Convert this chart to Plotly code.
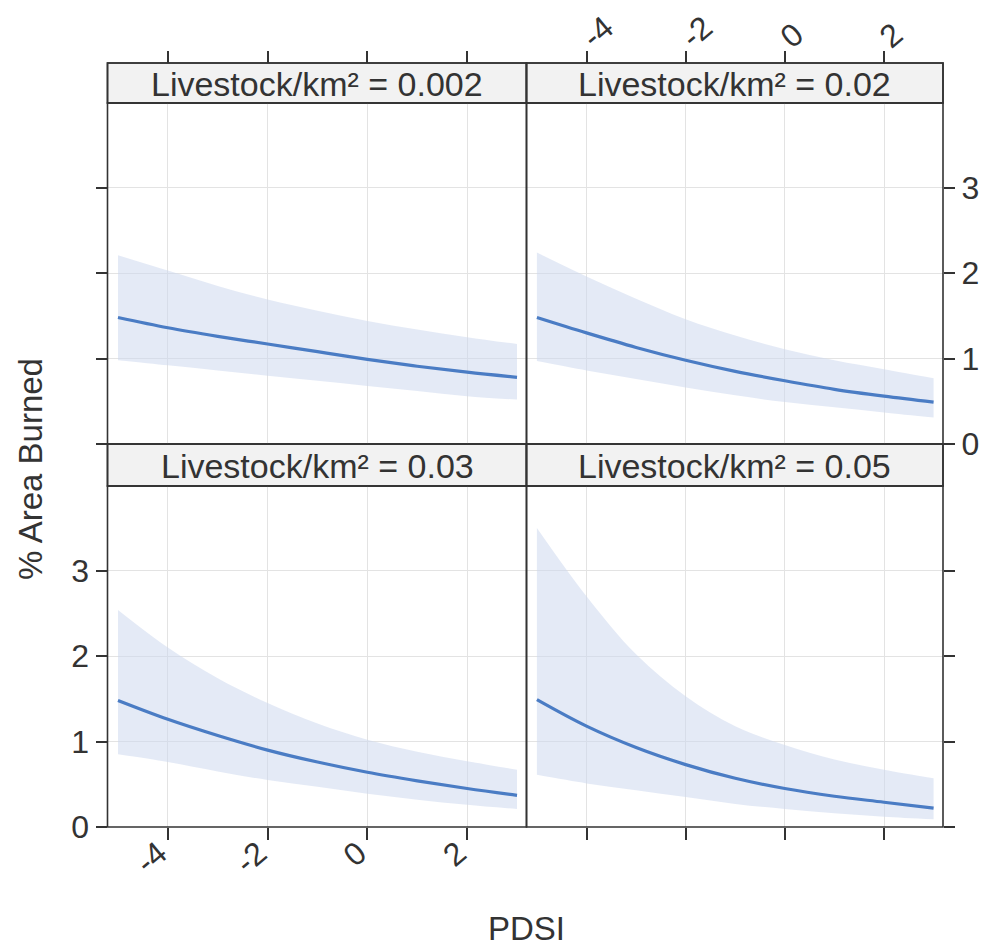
import plotly.graph_objects as go

# ---------------- data ----------------
pdsi = [-5, -4, -3, -2, -1, 0, 1, 2, 3]

panel_labels = ["Livestock/km² = 0.002", "Livestock/km² = 0.02",
                "Livestock/km² = 0.03", "Livestock/km² = 0.05"]

fit_0002 = [1.48, 1.36, 1.26, 1.17, 1.08, 0.99, 0.91, 0.84, 0.78]
upr_0002 = [2.21, 2.03, 1.85, 1.69, 1.56, 1.44, 1.34, 1.25, 1.17]
lwr_0002 = [0.98, 0.92, 0.86, 0.80, 0.74, 0.68, 0.62, 0.56, 0.52]

fit_002 = [1.48, 1.30, 1.13, 0.98, 0.85, 0.74, 0.64, 0.56, 0.49]
upr_002 = [2.24, 1.96, 1.70, 1.46, 1.27, 1.11, 0.98, 0.875, 0.77]
lwr_002 = [0.97, 0.86, 0.76, 0.66, 0.57, 0.49, 0.43, 0.37, 0.31]

fit_003 = [1.48, 1.26, 1.07, 0.90, 0.76, 0.64, 0.54, 0.45, 0.37]
upr_003 = [2.54, 2.10, 1.74, 1.45, 1.21, 1.02, 0.88, 0.77, 0.67]
lwr_003 = [0.85, 0.76, 0.65, 0.55, 0.47, 0.39, 0.32, 0.26, 0.21]

fit_005 = [1.49, 1.18, 0.93, 0.73, 0.57, 0.45, 0.36, 0.29, 0.22]
upr_005 = [3.50, 2.70, 2.02, 1.53, 1.18, 0.96, 0.79, 0.67, 0.57]
lwr_005 = [0.61, 0.51, 0.43, 0.35, 0.27, 0.21, 0.16, 0.12, 0.09]

x_ticks = [-4, -2, 0, 2]
x_ticktext = ["-4", "-2", "0", "2"]
y_ticks = [0, 1, 2, 3]
y_ticktext = ["0", "1", "2", "3"]

x_title = "PDSI"
y_title = "% Area Burned"

# ---------------- layout geometry ----------------
W, H = 993, 949
def fx(px): return px / W
def fy(py): return 1 - py / H

xL, xM, xR = 107.5, 526.5, 943.0
top_strip = (63, 103)
top_plot = (103, 444)
bot_strip = (444, 486)
bot_plot = (486, 827)

LINE = "#4a7cc4"
BAND = "rgba(205,217,238,0.55)"
DARK = "#333333"
GRID = "#e3e3e3"
FONT = "Liberation Sans, Arial, sans-serif"
XR = [-5.21, 3.19]
YR = [0, 3.99]

fig = go.Figure()

panels = [
    (fit_0002, upr_0002, lwr_0002, "x", "y"),
    (fit_002, upr_002, lwr_002, "x2", "y2"),
    (fit_003, upr_003, lwr_003, "x3", "y3"),
    (fit_005, upr_005, lwr_005, "x4", "y4"),
]
for fit, upr, lwr, xa, ya in panels:
    fig.add_trace(go.Scatter(
        x=pdsi, y=upr, mode="lines",
        line=dict(width=0, shape="spline", color=BAND),
        hoverinfo="skip", showlegend=False, xaxis=xa, yaxis=ya))
    fig.add_trace(go.Scatter(
        x=pdsi, y=lwr, mode="lines", fill="tonexty", fillcolor=BAND,
        line=dict(width=0, shape="spline", color=BAND),
        hoverinfo="skip", showlegend=False, xaxis=xa, yaxis=ya))
    fig.add_trace(go.Scatter(
        x=pdsi, y=fit, mode="lines",
        line=dict(color=LINE, width=3.2, shape="spline"),
        showlegend=False, xaxis=xa, yaxis=ya))

tickfont = dict(family=FONT, size=32, color=DARK)
common_x = dict(range=XR, tickvals=x_ticks, ticktext=x_ticktext, showgrid=True,
                gridcolor=GRID, gridwidth=1, zeroline=False, showline=False,
                ticks="outside", ticklen=12, tickwidth=1.5, tickcolor=DARK,
                tickfont=tickfont, tickangle=-40, fixedrange=True,
                automargin=False)
common_y = dict(range=YR, tickvals=y_ticks, ticktext=y_ticktext, showgrid=True,
                gridcolor=GRID, gridwidth=1, zeroline=False, showline=False,
                ticks="outside", ticklen=11, tickwidth=1.5, tickcolor=DARK,
                tickfont=tickfont, fixedrange=True, automargin=False)

dxL = [fx(xL), fx(xM)]
dxR = [fx(xM), fx(xR)]
dyT = [fy(top_plot[1]), fy(top_plot[0])]
dyB = [fy(bot_plot[1]), fy(bot_plot[0])]

fig.update_layout(
    xaxis=dict(common_x, domain=dxL, anchor="free", position=fy(top_strip[0]),
               side="top", showticklabels=False),
    yaxis=dict(common_y, domain=dyT, anchor="x", side="left", showticklabels=False),
    xaxis2=dict(common_x, domain=dxR, anchor="free", position=fy(top_strip[0]),
                side="top", showticklabels=True, ticklabelstandoff=-15,
                ticklabelshift=-3),
    yaxis2=dict(common_y, domain=dyT, anchor="x2", side="right", showticklabels=True),
    xaxis3=dict(common_x, domain=dxL, anchor="y3", side="bottom", showticklabels=True,
                ticklabelstandoff=-18, ticklabelshift=-9),
    yaxis3=dict(common_y, domain=dyB, anchor="x3", side="left", showticklabels=True),
    xaxis4=dict(common_x, domain=dxR, anchor="y4", side="bottom", showticklabels=False),
    yaxis4=dict(common_y, domain=dyB, anchor="x4", side="right", showticklabels=False),
)

shapes = []
def rect(x0, y0, x1, y1, fill=None):
    shapes.append(dict(type="rect", xref="paper", yref="paper",
                       x0=fx(x0), x1=fx(x1), y0=fy(y1), y1=fy(y0),
                       line=dict(color=DARK, width=1.6),
                       fillcolor=fill if fill else "rgba(0,0,0,0)",
                       layer="above" if fill is None else "below"))

annotations = []
for (x0, x1), (s0, s1), (p0, p1), label in [
        ((xL, xM), top_strip, top_plot, panel_labels[0]),
        ((xM, xR), top_strip, top_plot, panel_labels[1]),
        ((xL, xM), bot_strip, bot_plot, panel_labels[2]),
        ((xM, xR), bot_strip, bot_plot, panel_labels[3])]:
    rect(x0, s0, x1, s1, fill="#f2f2f2")
    rect(x0, s0, x1, s1)
    rect(x0, p0, x1, p1)
    annotations.append(dict(xref="paper", yref="paper",
                            x=fx((x0 + x1) / 2), y=fy((s0 + s1) / 2 + 1),
                            text=label, showarrow=False,
                            font=dict(family=FONT, size=34, color=DARK),
                            xanchor="center", yanchor="middle"))

annotations.append(dict(xref="paper", yref="paper", x=fx(526), y=fy(928),
                        text=x_title, showarrow=False,
                        font=dict(family=FONT, size=33, color=DARK),
                        xanchor="center", yanchor="middle"))
annotations.append(dict(xref="paper", yref="paper", x=fx(31), y=fy(469),
                        text=y_title, showarrow=False, textangle=-90,
                        font=dict(family=FONT, size=33, color=DARK),
                        xanchor="center", yanchor="middle"))

fig.update_layout(
    width=W, height=H,
    margin=dict(l=0, r=0, t=0, b=0, pad=0, autoexpand=False),
    paper_bgcolor="white", plot_bgcolor="white",
    shapes=shapes, annotations=annotations,
    showlegend=False,
    font=dict(family=FONT, color=DARK),
)

fig.write_html("out.html")
